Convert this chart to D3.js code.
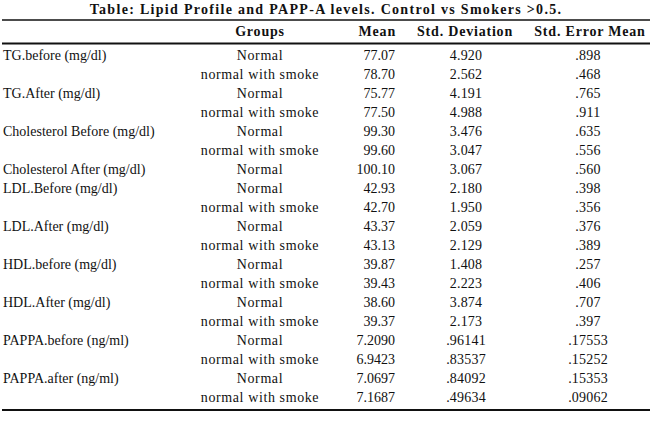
<!DOCTYPE html>
<html>
<head>
<meta charset="utf-8">
<script src="https://cdn.jsdelivr.net/npm/d3@7"></script>
<style>
  body { margin: 0; background: #fff; }
  text { font-family: "Liberation Serif", "Times New Roman", serif; fill: #111; }
</style>
</head>
<body>
<div id="table"></div>
<script>
var title = "Table: Lipid Profile and PAPP-A levels. Control vs Smokers >0.5.";
var headers = ["", "Groups", "Mean", "Std. Deviation", "Std. Error Mean"];
var variables = ["TG.before (mg/dl)", "", "TG.After (mg/dl)", "", "Cholesterol Before (mg/dl)", "",
  "Cholesterol After (mg/dl)", "LDL.Before (mg/dl)", "", "LDL.After (mg/dl)", "", "HDL.before (mg/dl)", "",
  "HDL.After (mg/dl)", "", "PAPPA.before (ng/ml)", "", "PAPPA.after (ng/ml)", ""];
var groups = ["Normal", "normal with smoke", "Normal", "normal with smoke", "Normal", "normal with smoke",
  "Normal", "Normal", "normal with smoke", "Normal", "normal with smoke", "Normal", "normal with smoke",
  "Normal", "normal with smoke", "Normal", "normal with smoke", "Normal", "normal with smoke"];
var means = ["77.07", "78.70", "75.77", "77.50", "99.30", "99.60", "100.10", "42.93", "42.70", "43.37", "43.13",
  "39.87", "39.43", "38.60", "39.37", "7.2090", "6.9423", "7.0697", "7.1687"];
var sds = ["4.920", "2.562", "4.191", "4.988", "3.476", "3.047", "3.067", "2.180", "1.950", "2.059", "2.129",
  "1.408", "2.223", "3.874", "2.173", ".96141", ".83537", ".84092", ".49634"];
var sems = [".898", ".468", ".765", ".911", ".635", ".556", ".560", ".398", ".356", ".376", ".389",
  ".257", ".406", ".707", ".397", ".17553", ".15252", ".15353", ".09062"];

var w = 650, h = 423;
var svg = d3.select("#table").append("svg")
  .attr("width", w)
  .attr("height", h);

var y = d3.scaleBand()
  .domain(d3.range(variables.length))
  .range([45.5, 407]);

// column positions and anchors
var cols = [
  {x: 3, anchor: "start", vals: variables, ls: 0},
  {x: 260, anchor: "middle", vals: groups, ls: 0.6},
  {x: 395, anchor: "end", vals: means, ls: 0},
  {x: 466, anchor: "middle", vals: sds, ls: 0.2},
  {x: 588, anchor: "middle", vals: sems, ls: 0.2}
];
var headX = [3, 260, 396, 465, 590];
var headAnchor = ["start", "middle", "end", "middle", "middle"];

svg.append("text")
  .attr("x", 326)
  .attr("y", 14)
  .attr("text-anchor", "middle")
  .attr("font-size", "14px")
  .attr("font-weight", "bold")
  .attr("letter-spacing", "1.3px")
  .text(title);

svg.selectAll(".head")
  .data(headers)
  .enter()
  .append("text")
  .attr("class", "head")
  .attr("x", function(d, i) { return headX[i]; })
  .attr("y", 36)
  .attr("text-anchor", function(d, i) { return headAnchor[i]; })
  .attr("font-size", "14px")
  .attr("font-weight", "bold")
  .attr("letter-spacing", "0.8px")
  .text(function(d) { return d; });

cols.forEach(function(c) {
  svg.append("g")
    .selectAll("text")
    .data(c.vals)
    .enter()
    .append("text")
    .attr("x", c.x)
    .attr("y", function(d, i) { return y(i) + y.bandwidth() / 2 + 4.5; })
    .attr("text-anchor", c.anchor)
    .attr("font-size", "14px")
    .attr("letter-spacing", c.ls + "px")
    .text(function(d) { return d; });
});

// rules
var rules = [{y: 20, s: 1.5}, {y: 43.5, s: 2.2}, {y: 410, s: 2.2}];
svg.selectAll("line")
  .data(rules)
  .enter()
  .append("line")
  .attr("x1", 2)
  .attr("x2", 650)
  .attr("y1", function(d) { return d.y; })
  .attr("y2", function(d) { return d.y; })
  .attr("stroke", "#111")
  .attr("stroke-width", function(d) { return d.s; });
</script>
</body>
</html>
